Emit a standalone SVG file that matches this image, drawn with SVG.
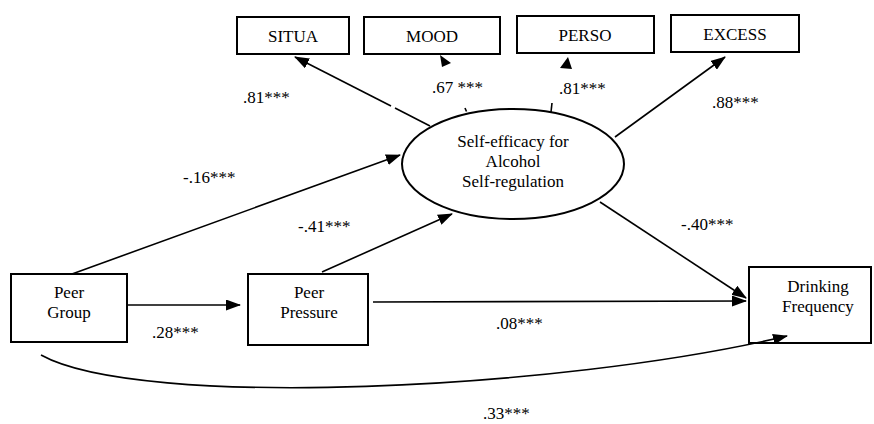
<svg xmlns="http://www.w3.org/2000/svg" width="874" height="424" viewBox="0 0 874 424">
<style>
.box{fill:#fff;stroke:#000;stroke-width:2}
.ln{fill:none;stroke:#000;stroke-width:1.6}
text{font-size:17px;fill:#000}
.c{text-anchor:middle}
</style>
<defs>
<marker id="ah" markerUnits="userSpaceOnUse" markerWidth="15" markerHeight="11" refX="14" refY="5.5" orient="auto" viewBox="0 0 15 11">
<path d="M0,0 L15,5.5 L0,11 z" fill="#000"/>
</marker>
</defs>
<rect width="874" height="424" fill="#fff"/>
<g font-family="'Liberation Serif', 'Times New Roman', Tinos, 'DejaVu Serif', serif">
<g id="situa"><rect class="box" x="237" y="17" width="112" height="37"/><text class="c" x="293" y="42">SITUA</text></g>
<g id="mood"><rect class="box" x="364" y="17" width="136" height="37"/><text class="c" x="432" y="42">MOOD</text></g>
<g id="perso"><rect class="box" x="517" y="16" width="137" height="37"/><text class="c" x="585" y="41">PERSO</text></g>
<g id="excess"><rect class="box" x="671" y="15" width="128" height="37"/><text class="c" x="735" y="40">EXCESS</text></g>
<g id="selfefficacy"><ellipse cx="513" cy="164" rx="111" ry="55" fill="#fff" stroke="#000" stroke-width="2"/>
<text class="c" x="513" y="147">Self-efficacy for</text><text class="c" x="513" y="167">Alcohol</text><text class="c" x="513" y="187">Self-regulation</text></g>
<g id="peergroup"><rect class="box" x="11" y="274" width="116" height="68"/><text class="c" x="69" y="298">Peer</text><text class="c" x="69" y="318">Group</text></g>
<g id="peerpressure"><rect class="box" x="248" y="274" width="120" height="71"/><text class="c" x="309" y="298">Peer</text><text class="c" x="309" y="318">Pressure</text></g>
<g id="drinking"><rect class="box" x="749" y="267" width="122" height="76"/><text class="c" x="818" y="292">Drinking</text><text class="c" x="818" y="312">Frequency</text></g>
<g id="connectors">
<line class="ln" x1="430" y1="126" x2="395" y2="108"/>
<line class="ln" x1="391" y1="106" x2="295" y2="57" marker-end="url(#ah)"/>
<path d="M440,55 L442,67 L451,63 z" fill="#000"/>
<line class="ln" x1="465" y1="108" x2="466.5" y2="111.5"/>
<path d="M568,57 L560,68 L572,69 z" fill="#000"/>
<line class="ln" x1="552" y1="103" x2="551" y2="112"/>
<line class="ln" x1="615" y1="137" x2="725" y2="57" marker-end="url(#ah)"/>
<line class="ln" x1="72" y1="274" x2="400" y2="155" marker-end="url(#ah)"/>
<line class="ln" x1="322" y1="272" x2="452" y2="214" marker-end="url(#ah)"/>
<line class="ln" x1="600" y1="202" x2="746" y2="298" marker-end="url(#ah)"/>
<line class="ln" x1="373" y1="302" x2="746" y2="301" marker-end="url(#ah)"/>
<line class="ln" x1="127" y1="305" x2="240" y2="305" marker-end="url(#ah)"/>
<path class="ln" d="M41,355 C140,410 560,390 787,336" marker-end="url(#ah)"/>
</g>
<g id="labels">
<text x="243" y="103">.81***</text>
<text x="432" y="93">.67 ***</text>
<text x="559" y="94">.81***</text>
<text x="712" y="108">.88***</text>
<text x="183" y="183">-.16***</text>
<text x="298" y="232">-.41***</text>
<text x="681" y="230">-.40***</text>
<text x="152" y="338">.28***</text>
<text x="496" y="329">.08***</text>
<text x="483" y="419">.33***</text>
</g>
</g>
</svg>
